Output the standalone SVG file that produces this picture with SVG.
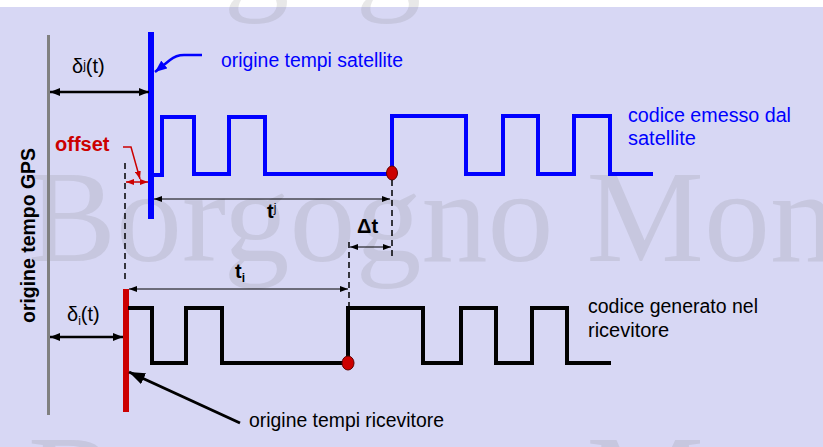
<svg xmlns="http://www.w3.org/2000/svg" width="823" height="447" viewBox="0 0 823 447">
<defs>
<style>
.wm{font-family:"Liberation Serif","Times New Roman",serif;font-size:132px;fill:#808080;fill-opacity:0.18}
.lbl{font-family:"Liberation Sans",Arial,sans-serif;font-size:20px}
.blue{fill:#0000ff}
.blk{fill:#000}
.sig{fill:none;stroke-width:4;stroke-linejoin:miter;stroke-linecap:butt}
.dash{fill:none;stroke:#000;stroke-width:1.5;stroke-dasharray:6 4}
.thin{fill:none;stroke:#000;stroke-width:1}
.bold2{fill:none;stroke:#000;stroke-width:2.5}
</style>
<marker id="ah" markerUnits="userSpaceOnUse" viewBox="0 0 8 6" refX="8" refY="3" markerWidth="8" markerHeight="6" orient="auto-start-reverse"><path d="M0,0 L8,3 L0,6 z" fill="#000"/></marker>
<marker id="ahb" markerUnits="userSpaceOnUse" viewBox="0 0 10 8" refX="10" refY="4" markerWidth="10" markerHeight="8" orient="auto-start-reverse"><path d="M0,0 L10,4 L0,8 z" fill="#000"/></marker>
<marker id="ahr" markerUnits="userSpaceOnUse" viewBox="0 0 8 6" refX="8" refY="3" markerWidth="8" markerHeight="6" orient="auto-start-reverse"><path d="M0,0 L8,3 L0,6 z" fill="#cc0000"/></marker>
<marker id="ahblue" markerUnits="userSpaceOnUse" viewBox="0 0 12 10" refX="12" refY="5" markerWidth="12" markerHeight="10" orient="auto"><path d="M0,0 L12,5 L0,10 z" fill="#0000ff"/></marker>
<marker id="ahbig" markerUnits="userSpaceOnUse" viewBox="0 0 16 12" refX="16" refY="6" markerWidth="16" markerHeight="12" orient="auto"><path d="M0,0 L16,6 L0,12 z" fill="#000"/></marker>
</defs>

<rect x="0" y="0" width="823" height="447" fill="#ffffff"/>
<rect x="0" y="7" width="823" height="440" fill="#d7d7f4"/>

<g id="watermark">
<text class="wm" x="28" y="-4">Borgogno Mon</text>
<text class="wm" x="28" y="261">Borgogno Mon</text>
<text class="wm" x="28" y="526">Borgogno Mon</text>
</g>

<g id="gps-origin">
<line x1="48.5" y1="35" x2="48.5" y2="415" stroke="#808080" stroke-width="3"/>
<text class="lbl" font-weight="bold" font-size="21" transform="translate(35,323) rotate(-90)" textLength="175" lengthAdjust="spacingAndGlyphs">origine tempo GPS</text>
</g>

<g id="satellite-origin">
<line x1="151" y1="32" x2="151" y2="219" stroke="#0000ff" stroke-width="6"/>
<text class="lbl blue" x="221" y="67" textLength="182" lengthAdjust="spacingAndGlyphs">origine tempi satellite</text>
</g>

<g id="satellite-code">
<path class="sig" stroke="#0000ff" d="M153,175 H162 V117 H194 V174 H229 V117 H265 V174 H392 V116 H466 V174 H503 V116 H538 V174 H574 V116 H610 V174 H653"/>
<ellipse cx="392" cy="173" rx="5.5" ry="7" fill="#cc0000" stroke="#600000" stroke-width="1"/>
<text class="lbl blue" x="628" y="122" textLength="163" lengthAdjust="spacingAndGlyphs">codice emesso dal</text>
<text class="lbl blue" x="628" y="145">satellite</text>
</g>

<g id="receiver-origin">
<line x1="126" y1="289" x2="126" y2="412" stroke="#cc0000" stroke-width="6"/>
<text class="lbl blk" x="249" y="427" textLength="195" lengthAdjust="spacingAndGlyphs">origine tempi ricevitore</text>
</g>

<g id="receiver-code">
<path class="sig" stroke="#000" d="M128,308 H152 V363 H186 V308 H222 V363 H348 V308 H423 V363 H461 V308 H496 V363 H532 V308 H567 V363 H611"/>
<ellipse cx="348" cy="363" rx="6" ry="7" fill="#cc0000" stroke="#600000" stroke-width="1"/>
<text class="lbl blk" x="588" y="313" textLength="170" lengthAdjust="spacingAndGlyphs">codice generato nel</text>
<text class="lbl blk" x="588" y="337">ricevitore</text>
</g>

<g id="labels">
<text class="lbl blk" x="72" y="73" font-size="18">δ<tspan font-size="12" dy="-4">j</tspan><tspan dy="4">(t)</tspan></text>
<text class="lbl blk" x="67" y="321" font-size="18">δ<tspan font-size="12" dy="4">i</tspan><tspan dy="-4">(t)</tspan></text>
<text class="lbl" x="55" y="151" font-size="18.5" font-weight="bold" fill="#cc0000">offset</text>
<text class="lbl blk" x="267" y="218" font-size="18" font-weight="bold">t<tspan font-size="12" font-weight="normal" dy="-6">j</tspan></text>
<text class="lbl blk" x="235" y="278" font-size="18" font-weight="bold">t<tspan font-size="12" dy="4">i</tspan></text>
<text class="lbl blk" x="357" y="233" font-size="18" font-weight="bold">Δt</text>
</g>

<g id="connectors">
<line class="bold2" x1="50" y1="92" x2="149" y2="92" marker-start="url(#ahb)" marker-end="url(#ahb)"/>
<line class="bold2" x1="50" y1="337" x2="123" y2="337" marker-start="url(#ahb)" marker-end="url(#ahb)"/>
<path d="M202,55 H184 Q176,55 170,60 L155,72" fill="none" stroke="#0000ff" stroke-width="2.5" marker-end="url(#ahblue)"/>
<line x1="240" y1="423" x2="129" y2="372" stroke="#000" stroke-width="3" marker-end="url(#ahbig)"/>
<line class="dash" x1="125" y1="163" x2="125" y2="282"/>
<line class="dash" x1="392" y1="180" x2="392" y2="256"/>
<line class="dash" x1="349" y1="242" x2="349" y2="307"/>
<path d="M123,147 H131 L140,179" fill="none" stroke="#cc0000" stroke-width="1.5" marker-end="url(#ahr)"/>
<line x1="126" y1="182" x2="148" y2="182" stroke="#cc0000" stroke-width="1.5" marker-start="url(#ahr)" marker-end="url(#ahr)"/>
<line class="thin" x1="154" y1="199" x2="390" y2="199" marker-start="url(#ah)" marker-end="url(#ah)"/>
<line class="thin" x1="129" y1="289" x2="348" y2="289" marker-start="url(#ah)" marker-end="url(#ah)"/>
<line class="thin" x1="350" y1="247" x2="391" y2="247" marker-start="url(#ah)" marker-end="url(#ah)"/>
</g>
</svg>
